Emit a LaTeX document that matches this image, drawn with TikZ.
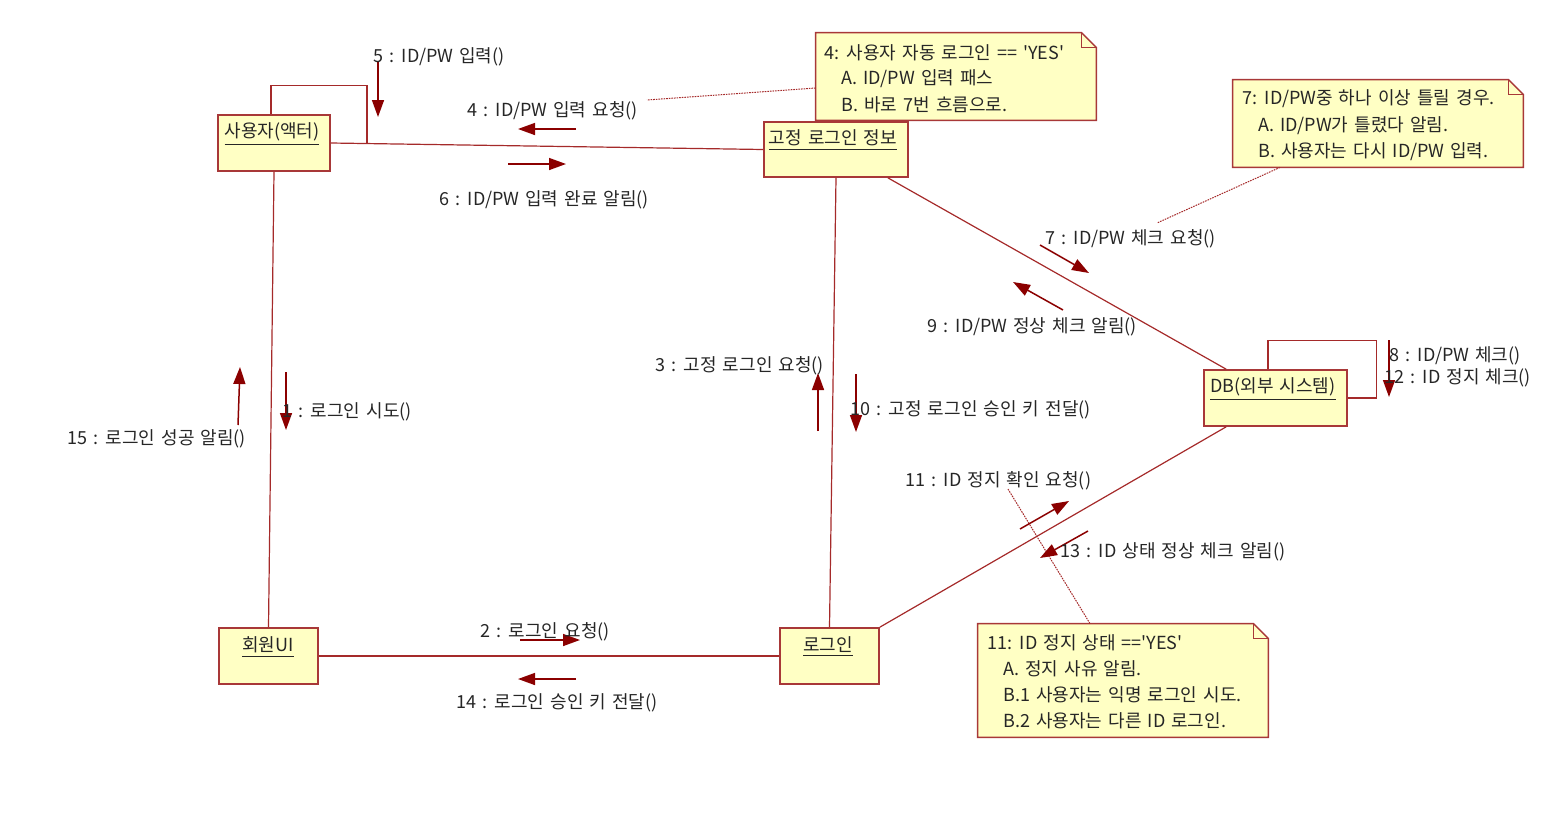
\documentclass[tikz,border=0pt]{standalone}
\usepackage{fontspec}
\setmainfont{Noto Sans CJK KR}[Ligatures=TeXOff, WordSpace=1.5]
\usetikzlibrary{arrows.meta}
\definecolor{boxfill}{HTML}{FFFFC4}
\definecolor{boxline}{HTML}{A83838}
\definecolor{lnk}{HTML}{A52A2A}
\definecolor{msgc}{HTML}{8B0000}
\definecolor{txt}{HTML}{262626}
\tikzset{
  objbox/.style={draw=boxline, fill=boxfill, line width=0.8pt, inner sep=0pt, minimum height=28pt},
  notebox/.style={inner sep=0pt},
  noteline/.style={draw=boxline, fill=boxfill, line width=0.7pt},
  assoc/.style={draw=lnk, line width=0.6pt},
  noteconn/.style={draw=lnk, line width=0.5pt, dash pattern=on 0.8pt off 0.5pt},
  msgarrow/.style={draw=msgc, line width=0.75pt, -{Triangle[length=8.5pt,width=6pt]}},
  lbl/.style={anchor=west, inner sep=0pt, yshift=-0.8pt, text=txt, font=\fontsize{9pt}{10.5pt}\selectfont},
  objlbl/.style={inner sep=0pt, yshift=-0.5pt, text=txt, font=\fontsize{9pt}{10.5pt}\selectfont},
}
\begin{document}
\begin{tikzpicture}[x=0.5pt,y=-0.5pt]
\useasboundingbox (0,0) rectangle (1554,814);

% ---------- notes ----------
\node[notebox, minimum width=140pt, minimum height=43.5pt] (note4) at (956,76.5) {};
\node[notebox, minimum width=145pt, minimum height=43.5pt] (note7) at (1378,123.5) {};
\node[notebox, minimum width=145pt, minimum height=56.5pt] (note11) at (1123,680.5) {};
\foreach \n in {note4,note7,note11}{
  \draw[noteline] (\n.north west) -- ([xshift=-7.5pt]\n.north east) -- ([yshift=-7.5pt]\n.north east) -- (\n.south east) -- (\n.south west) -- cycle;
  \draw[noteline, fill=none] ([xshift=-7.5pt]\n.north east) |- ([yshift=-7.5pt]\n.north east);
}

% ---------- objects ----------
\node[objbox, minimum width=56pt] (actor) at (274,143) {};
\node[objbox, minimum width=72pt, minimum height=27.5pt] (fixed) at (836,149.5) {};
\node[objbox, minimum width=71.5pt] (db) at (1275.5,398) {};
\node[objbox, minimum width=49.5pt] (ui) at (268.5,656) {};
\node[objbox, minimum width=49.5pt] (login) at (829.5,656) {};

\node[objlbl] (actorlbl) at (272,133) {\underline{사용자(액터)}};
\node[objlbl] (fixedlbl) at (833,139) {\underline{고정 로그인 정보}};
\node[objlbl] (dblbl) at (1273,388) {\underline{DB(외부 시스템)}};
\node[objlbl] (uilbl) at (268,646) {\underline{회원UI}};
\node[objlbl] (loginlbl) at (828,646) {\underline{로그인}};

% ---------- associations ----------
\coordinate (actorloop) at (367,143);
\draw[assoc] (actor.east) -- (fixed.west);
\draw[assoc] ([xshift=-1.5pt]actor.north) -- ++(0,-29) -| (actorloop);
\draw[assoc] (actor.south) -- (ui.north);
\draw[assoc] (fixed.south) -- (login.north);
\draw[assoc] ([xshift=-10.5pt]fixed.south east) -- ([xshift=11.5pt]db.north west);
\draw[assoc] (login.north east) -- ([xshift=11.5pt]db.south west);
\draw[assoc] (ui.east) -- (login.west);
\draw[assoc] ([xshift=-3.75pt]db.north) -- ++(0,-29) -| ([xshift=14.5pt]db.east) -- (db.east);

% ---------- note connectors ----------
\coordinate (n4end) at (647,100);
\coordinate (n7end) at (1157,223);
\coordinate (n11end) at (1008,489);
\draw[noteconn] ([yshift=-5.75pt]note4.west) -- (n4end);
\draw[noteconn] ([xshift=-49pt]note7.south) -- (n7end);
\draw[noteconn] ([xshift=-16.5pt]note11.north) -- (n11end);

% ---------- note texts ----------
\node[lbl] (n4a) at (824,51) {4: 사용자 자동 로그인 == 'YES'};
\node[lbl] (n4b) at (841,77) {A. ID/PW 입력 패스};
\node[lbl] (n4c) at (841,103) {B. 바로 7번 흐름으로.};
\node[lbl] (n7a) at (1242,97) {7: ID/PW중 하나 이상 틀릴 경우.};
\node[lbl] (n7b) at (1258,124) {A. ID/PW가 틀렸다 알림.};
\node[lbl] (n7c) at (1258,150) {B. 사용자는 다시 ID/PW 입력.};
\node[lbl] (n11a) at (987,641) {11: ID 정지 상태 =='YES'};
\node[lbl] (n11b) at (1003,667) {A. 정지 사유 알림.};
\node[lbl] (n11c) at (1003,693) {B.1 사용자는 익명 로그인 시도.};
\node[lbl] (n11d) at (1003,719) {B.2 사용자는 다른 ID 로그인.};

% ---------- message arrows ----------
\coordinate (m5s) at (378,62);   \coordinate (m5e) at (378,117);
\coordinate (m4s) at (576,129);  \coordinate (m4e) at (518,129);
\coordinate (m6s) at (508,164);  \coordinate (m6e) at (566,164);
\coordinate (m7s) at (1040,245); \coordinate (m7e) at (1089,273);
\coordinate (m9s) at (1063,310); \coordinate (m9e) at (1013,282);
\coordinate (m8s) at (1389,340); \coordinate (m8e) at (1389,397);
\coordinate (m3s) at (818,431);  \coordinate (m3e) at (818,373);
\coordinate (m10s) at (856,374); \coordinate (m10e) at (856,432);
\coordinate (m1s) at (286,372);  \coordinate (m1e) at (286,430);
\coordinate (m15s) at (238,425); \coordinate (m15e) at (240,367);
\coordinate (m2s) at (520,640);  \coordinate (m2e) at (580,640);
\coordinate (m14s) at (576,679); \coordinate (m14e) at (518,679);
\coordinate (m11s) at (1020,529); \coordinate (m11e) at (1069,501);
\coordinate (m13s) at (1088,531); \coordinate (m13e) at (1040,558);
\foreach \m in {m5,m4,m6,m7,m9,m8,m3,m10,m1,m15,m2,m14,m11,m13}
  \draw[msgarrow] (\m s) -- (\m e);

% ---------- message labels ----------
\node[lbl] (l5) at (373,55) {5 : ID/PW 입력()};
\node[lbl] (l4) at (467,109) {4 : ID/PW 입력 요청()};
\node[lbl] (l6) at (439,198) {6 : ID/PW 입력 완료 알림()};
\node[lbl] (l7) at (1045,237) {7 : ID/PW 체크 요청()};
\node[lbl] (l9) at (927,325) {9 : ID/PW 정상 체크 알림()};
\node[lbl] (l8) at (1389,354) {8 : ID/PW 체크()};
\node[lbl] (l12) at (1384,376) {12 : ID 정지 체크()};
\node[lbl] (l3) at (655,364) {3 : 고정 로그인 요청()};
\node[lbl] (l10) at (850,408) {10 : 고정 로그인 승인 키 전달()};
\node[lbl] (l1) at (282,410) {1 : 로그인 시도()};
\node[lbl] (l15) at (67,437) {15 : 로그인 성공 알림()};
\node[lbl] (l2) at (480,630) {2 : 로그인 요청()};
\node[lbl] (l14) at (456,701) {14 : 로그인 승인 키 전달()};
\node[lbl] (l11) at (905,479) {11 : ID 정지 확인 요청()};
\node[lbl] (l13) at (1060,550) {13 : ID 상태 정상 체크 알림()};
\end{tikzpicture}
\end{document}
